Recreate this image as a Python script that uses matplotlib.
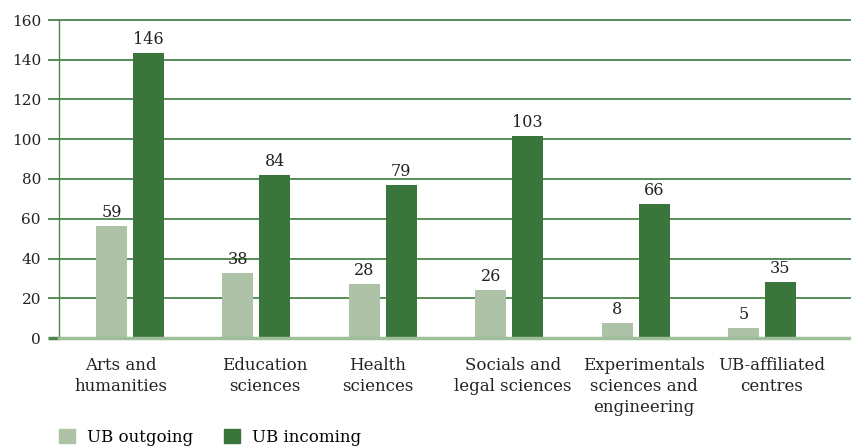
import numpy as np
import matplotlib
matplotlib.use('Agg')
import matplotlib.pyplot as plt
import matplotlib.transforms as mtransforms
from matplotlib.patches import Patch

categories = ['Arts and\nhumanities', 'Education\nsciences', 'Health\nsciences',
              'Socials and\nlegal sciences', 'Experimentals\nsciences and\nengineering',
              'UB-affiliated\ncentres']
# bar heights as drawn in the picture, and the printed value labels
outgoing = [56.4, 32.9, 27.3, 24.2, 7.7, 5.2]
incoming = [143.5, 82.2, 77.0, 101.8, 67.4, 28.3]
outgoing_labels = ['59', '38', '28', '26', '8', '5']
incoming_labels = ['146', '84', '79', '103', '66', '35']
yticks = [0, 20, 40, 60, 80, 100, 120, 140, 160]

light = '#adc2a7'
dark = '#3a753c'
grid = '#4b864d'
base = '#9dbf9a'
txt = '#222222'

plt.rcParams['font.family'] = ['DejaVu Serif']

fig = plt.figure(figsize=(8.51, 4.48), dpi=100)
W, H = 851, 448
ax = fig.add_axes([59 / W, 1 - 338 / H, (851 - 59) / W, (338 - 20) / H])

x = np.arange(len(categories))
bw = 0.2453
off = 0.146
ax.bar(x - off, outgoing, bw, color=light, zorder=3)
ax.bar(x + off, incoming, bw, color=dark, zorder=3)

for xi, h, t in zip(x, outgoing, outgoing_labels):
    ax.text(xi - off, h + 2.3, t, ha='center', va='bottom', fontsize=11.5, color=txt)
for xi, h, t in zip(x, incoming, incoming_labels):
    ax.text(xi + off, h + 2.3, t, ha='center', va='bottom', fontsize=11.5, color=txt)

ax.set_xlim(-0.5617, 5.704)
ax.set_ylim(0, 160)
ax.set_yticks(yticks)
ax.set_yticklabels([str(v) for v in yticks], fontsize=11, color=txt)
ax.tick_params(axis='y', length=8, width=1.3, color=grid, pad=5)
t0 = ax.yaxis.get_major_ticks()[0]
t0.tick1line.set_color(base)
t0.tick1line.set_markeredgewidth(2.5)

ax.set_xticks(x)
ax.set_xticklabels(categories, fontsize=12, color=txt, linespacing=1.28)
ax.tick_params(axis='x', length=0, pad=14)
# small horizontal shifts of the category labels (pixels)
label_shift = [-9, 8, -5, 4, 8, 10]
for lab, dx in zip(ax.get_xticklabels(), label_shift):
    lab.set_transform(lab.get_transform() + mtransforms.ScaledTranslation(dx / 100, 0, fig.dpi_scale_trans))

for v in yticks[1:]:
    ax.axhline(v, color=grid, lw=1.3, zorder=1, clip_on=False)
ax.axhline(0, color=base, lw=2.5, zorder=4, clip_on=False)

for s in ['top', 'right', 'bottom']:
    ax.spines[s].set_visible(False)
ax.spines['left'].set_color(grid)
ax.spines['left'].set_linewidth(1.0)

handles = [Patch(color=light, label='UB outgoing'), Patch(color=dark, label='UB incoming')]
fig.legend(handles=handles, loc='center left', bbox_to_anchor=(59 / W, 1 - 437 / H), ncol=2,
           frameon=False, fontsize=12, handlelength=0.96, handleheight=0.96,
           handletextpad=0.7, columnspacing=1.9, borderpad=0, borderaxespad=0)

fig.savefig('out.png', dpi=100)
